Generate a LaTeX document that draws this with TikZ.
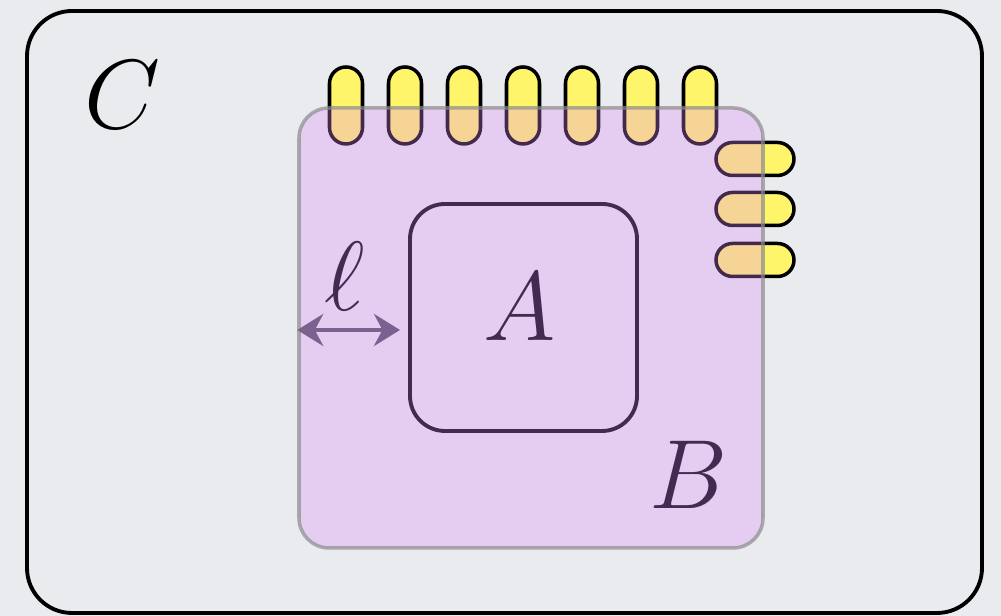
\documentclass[tikz,border=0pt]{standalone}
\usetikzlibrary{arrows.meta,positioning}

\definecolor{bgray}{RGB}{233,235,238}
\definecolor{pinyellow}{RGB}{255,245,107}
\definecolor{bviolet}{RGB}{223,137,251}
\definecolor{darkplum}{RGB}{66,42,80}
\definecolor{lenplum}{RGB}{123,97,144}

\tikzset{
  bigletter/.style={font=\Huge, scale=1.125, transform shape, inner sep=0pt},
  pinbox/.style={draw=black, line width=1pt, fill=pinyellow, rounded corners=1.65mm, inner sep=0pt}
}

\begin{document}
\begin{tikzpicture}[>=latex, every node/.style={align=center}]
  % page background and size
  \fill[bgray] (0,0) rectangle (10.01,6.16);
  \useasboundingbox (0,0) rectangle (10.01,6.16);

  % outer region C
  \node[draw=black, line width=1.1pt, rounded corners=4.5mm, minimum width=9.55cm, minimum height=6.02cm, inner sep=0pt] (C) at (5.045,3.04) {};
  \node[bigletter] (Clabel) at (1.22,5.21) {$C$};

  % pins on the top side
  \foreach \i in {0,...,6}
    \node[pinbox, minimum width=3.3mm, minimum height=7.7mm] (top\i) at (3.46+0.59*\i,5.105) {};

  % pins on the right side
  \foreach \i/\y in {0/4.57,1/4.07,2/3.56}
    \node[pinbox, minimum width=7.8mm, minimum height=3.3mm] (side\i) at (7.55,\y) {};

  % region B, drawn over the pins
  \node[draw=black!45, draw opacity=0.7, line width=1pt, fill=bviolet, fill opacity=0.3, rounded corners=3mm, minimum width=4.64cm, minimum height=4.40cm, inner sep=0pt] (B) at (5.31,2.88) {};
  \node[bigletter, text=darkplum] (Blabel) at (6.89,1.41) {$B$};

  % region A
  \node[draw=darkplum, line width=1.1pt, rounded corners=3.5mm, minimum width=2.27cm, minimum height=2.27cm, inner sep=0pt] (A) at (5.235,2.985) {};
  \node[bigletter, text=darkplum] (Alabel) at (5.20,3.09) {$A$};

  % distance l between B and A
  \coordinate (lstart) at (B.west |- 0,2.86);
  \coordinate (lend) at (4.00,2.86);
  \draw[{Stealth[length=2.6mm,width=3.2mm]}-{Stealth[length=2.6mm,width=3.2mm]}, draw=lenplum, fill=lenplum, line width=1.2pt] (lstart) -- (lend);
  \node[bigletter, text=darkplum] (llabel) at (3.45,3.40) {$\ell$};
\end{tikzpicture}
\end{document}
